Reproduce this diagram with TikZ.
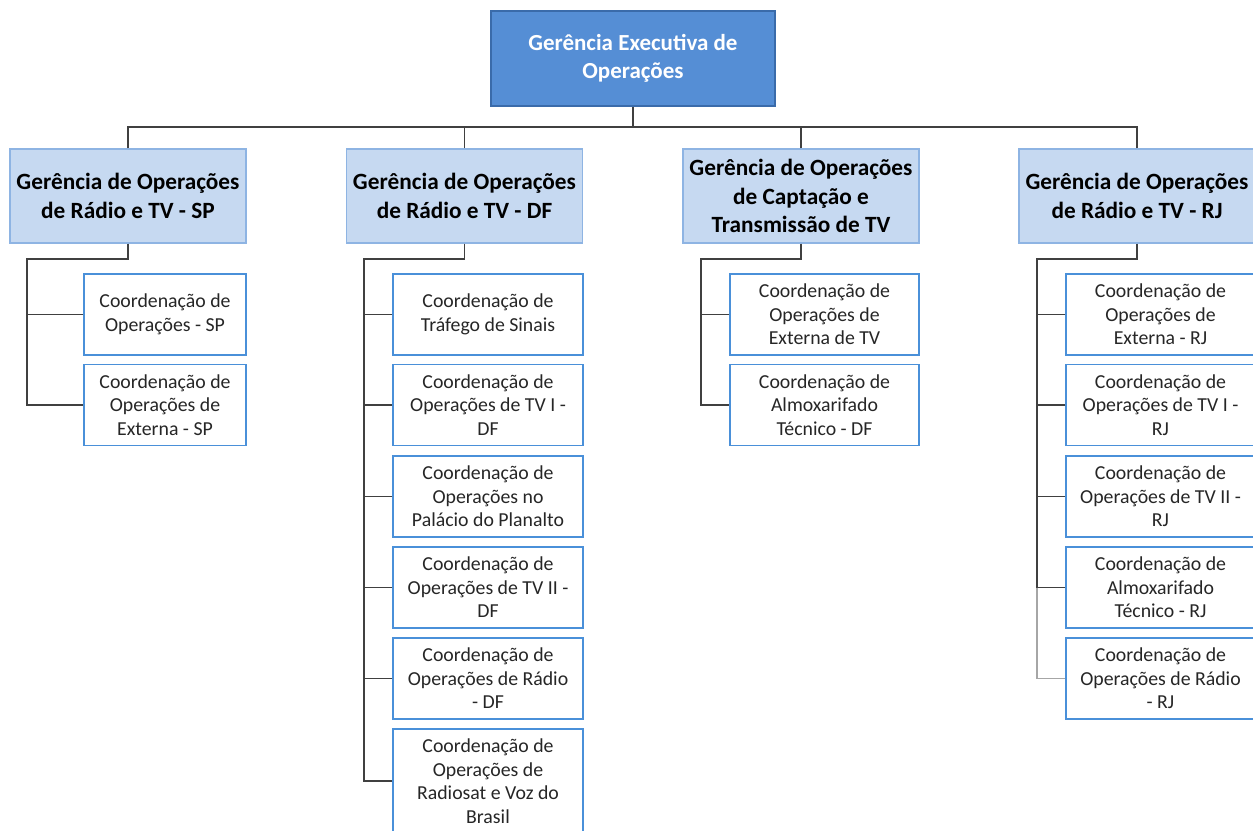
\documentclass[tikz,border=0pt]{standalone}
\usepackage{fontspec}
\setmainfont{Carlito}
\definecolor{topfill}{HTML}{558ED5}
\definecolor{topdraw}{HTML}{3A6BAA}
\definecolor{lvtwofill}{HTML}{C6D9F1}
\definecolor{lvtwodraw}{HTML}{8EB4E3}
\definecolor{lvthreedraw}{HTML}{4A90D9}
\definecolor{conn}{HTML}{404040}
\definecolor{connlight}{HTML}{A6A6A6}
\begin{document}
\begin{tikzpicture}[x=1pt,y=-1pt,
  topbox/.style={draw=topdraw,fill=topfill,line width=1.2pt,minimum width=284pt,minimum height=95pt,inner sep=0pt,align=center,text=white,font=\fontsize{23}{28}\selectfont\bfseries},
  mgrbox/.style={draw=lvtwodraw,fill=lvtwofill,line width=1.2pt,minimum width=236pt,minimum height=94pt,inner sep=0pt,align=center,text=black,font=\fontsize{23.3}{28.5}\selectfont\bfseries},
  coordbox/.style={draw=lvthreedraw,fill=white,line width=1.2pt,minimum height=81pt,inner sep=0pt,align=center,text=black!85,font=\fontsize{19.8}{23.5}\selectfont},
  link/.style={draw=conn,line width=1.5pt},
  linklight/.style={draw=connlight,line width=1.5pt}]
\useasboundingbox (0,0) rectangle (1253,830);
\begin{scope}
\clip (0,0) rectangle (1253,830);
% top
\node[topbox] (top) at (633,58.5) {Gerência Executiva de\\Operações};
\coordinate (tb) at (633,127);
% level 2
\node[mgrbox] (sp) at (128,196) {Gerência de Operações\\de Rádio e TV - SP};
\node[mgrbox] (df) at (464.5,196) {Gerência de Operações\\de Rádio e TV - DF};
\node[mgrbox] (cap) at (801,196) {Gerência de Operações\\de Captação e\\Transmissão de TV};
\node[mgrbox] (rj) at (1137,196) {Gerência de Operações\\de Rádio e TV - RJ};
\draw[link] (top.south) -- (tb);
\draw[link] (sp.north) |- (tb);
\draw[link] (df.north) |- (tb);
\draw[link] (cap.north) |- (tb);
\draw[link] (rj.north) |- (tb);
% SP
\node[coordbox,minimum width=162pt] (sp1) at (165,314.5) {Coordenação de\\Operações - SP};
\node[coordbox,minimum width=162pt] (sp2) at (165,405) {Coordenação de\\Operações de\\Externa - SP};
\coordinate (spbus) at (27,259);
\draw[link] (sp.south) |- (spbus) -- (spbus |- sp2.west) -- (sp2.west);
\draw[link] (sp1.west) -- (spbus |- sp1.west);
% DF
\node[coordbox,minimum width=190pt] (df1) at (488,314.5) {Coordenação de\\Tráfego de Sinais};
\node[coordbox,minimum width=190pt] (df2) at (488,405) {Coordenação de\\Operações de TV I -\\DF};
\node[coordbox,minimum width=190pt] (df3) at (488,496.5) {Coordenação de\\Operações no\\Palácio do Planalto};
\node[coordbox,minimum width=190pt] (df4) at (488,587.5) {Coordenação de\\Operações de TV II -\\DF};
\node[coordbox,minimum width=190pt] (df5) at (488,678.5) {Coordenação de\\Operações de Rádio\\- DF};
\node[coordbox,minimum width=190pt,minimum height=104pt] (df6) at (488,781) {Coordenação de\\Operações de\\Radiosat e Voz do\\Brasil};
\coordinate (dfbus) at (364,259);
\draw[link] (df.south) |- (dfbus) -- (dfbus |- df6.west) -- (df6.west);
\foreach \n in {df1,df2,df3,df4,df5} \draw[link] (\n.west) -- (dfbus |- \n.west);
% Captacao
\node[coordbox,minimum width=189pt] (cap1) at (824.5,314.5) {Coordenação de\\Operações de\\Externa de TV};
\node[coordbox,minimum width=189pt] (cap2) at (824.5,405) {Coordenação de\\Almoxarifado\\Técnico - DF};
\coordinate (capbus) at (701,259);
\draw[link] (cap.south) |- (capbus) -- (capbus |- cap2.west) -- (cap2.west);
\draw[link] (cap1.west) -- (capbus |- cap1.west);
% RJ
\node[coordbox,minimum width=189pt] (rj1) at (1160.5,314.5) {Coordenação de\\Operações de\\Externa - RJ};
\node[coordbox,minimum width=189pt] (rj2) at (1160.5,405) {Coordenação de\\Operações de TV I -\\RJ};
\node[coordbox,minimum width=189pt] (rj3) at (1160.5,496.5) {Coordenação de\\Operações de TV II -\\RJ};
\node[coordbox,minimum width=189pt] (rj4) at (1160.5,587.5) {Coordenação de\\Almoxarifado\\Técnico - RJ};
\node[coordbox,minimum width=189pt] (rj5) at (1160.5,678.5) {Coordenação de\\Operações de Rádio\\- RJ};
\coordinate (rjbus) at (1037,259);
\draw[link] (rj.south) |- (rjbus) -- (rjbus |- rj4.west);
\draw[linklight] (rjbus |- rj4.west) -- (rjbus |- rj5.west) -- (rj5.west);
\foreach \n in {rj1,rj2,rj3,rj4} \draw[link] (\n.west) -- (rjbus |- \n.west);
\end{scope}
\end{tikzpicture}
\end{document}
